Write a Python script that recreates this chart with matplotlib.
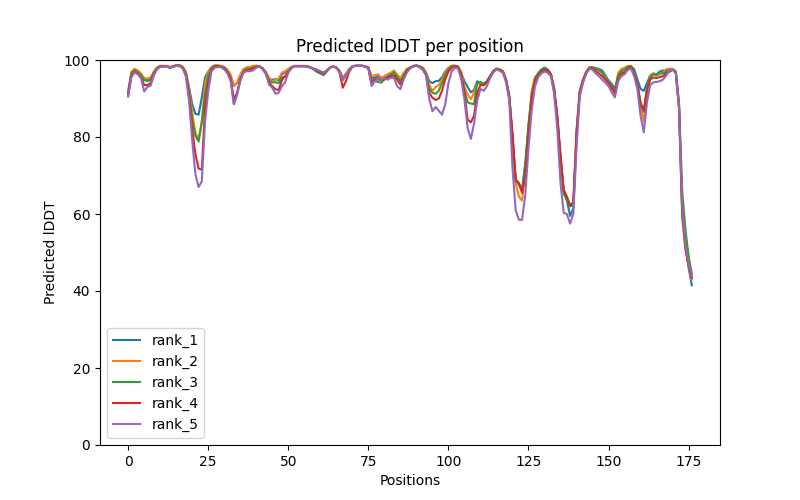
import matplotlib
matplotlib.use("Agg")
import matplotlib.pyplot as plt
import numpy as np

# per-residue plDDT for each ranked model
rank_1 = [92, 96.5, 97.3, 96.8, 96, 94.8, 94.8, 95, 96.7, 97.9,
          98.4, 98.4, 98.4, 97.9, 98.3, 98.6, 98.6, 98.1, 96.8, 93,
          88.5, 86, 85.8, 90.3, 95.5, 97, 98, 98.5, 98.5, 98.3,
          98, 97.1, 95.8, 93.3, 94, 96, 97.5, 98, 98.1, 98.3,
          98.5, 98.3, 97.8, 96.7, 94.9, 94.9, 95, 94.8, 96.3, 96.8,
          97.6, 98.1, 98.4, 98.4, 98.4, 98.4, 98.3, 98, 97.5, 96.9,
          96.5, 96.1, 97, 98, 98.3, 98, 97.1, 95, 96.2, 97.5,
          98.3, 98.5, 98.5, 98.5, 98.3, 98, 95.4, 95.4, 95.8, 94.9,
          95.4, 95.8, 96.3, 96.9, 95.8, 94.9, 96.3, 97.5, 98, 98.4,
          98.6, 98.3, 97.9, 96.7, 94.5, 94, 94.5, 94.6, 95.5, 97,
          98, 98.5, 98.5, 98.2, 96.5, 94.5, 93, 91.6, 92.2, 94.5,
          93.8, 93.5, 94.3, 95.8, 97.1, 97.7, 97.5, 97.1, 94.9, 90.6,
          80, 69, 67.5, 66.5, 73, 83, 91, 95, 96.5, 97.5,
          98, 97.5, 96.3, 92.5, 85, 74.5, 66, 63.5, 59.5, 61.5,
          80, 91.5, 94.5, 96.8, 98, 98, 97.8, 97.7, 97.3, 96,
          94.7, 93.8, 92.5, 96, 97.3, 97.6, 98.3, 98.4, 97.6, 95,
          92.5, 92, 94, 96, 96.5, 96.3, 97, 97.3, 97.1, 97.5,
          97.6, 96.9, 88, 61, 52, 46, 41.5]

rank_2 = [91.5, 97, 97.7, 97.3, 96.5, 95.3, 95.2, 95.5, 97, 98.1,
          98.5, 98.5, 98.5, 98.2, 98.4, 98.7, 98.7, 98.3, 97, 92.5,
          86.5, 81, 79.5, 84, 94, 97, 98.2, 98.6, 98.6, 98.5,
          98.2, 97.5, 96.2, 93.3, 94.1, 96.2, 97.6, 98.1, 98.2, 98.5,
          98.5, 98.4, 97.9, 96.9, 95.4, 94.5, 94.9, 95.2, 96.7, 97.1,
          97.7, 98.2, 98.5, 98.5, 98.5, 98.5, 98.4, 98.1, 97.8, 97.3,
          97, 96.8, 97.3, 98.1, 98.4, 98.1, 97.3, 95.5, 96.5, 97.7,
          98.4, 98.5, 98.5, 98.5, 98.4, 98.2, 95.8, 96, 96.3, 95.4,
          95.8, 96.3, 96.7, 97.3, 96.2, 95.3, 96.6, 97.7, 98.1, 98.5,
          98.6, 98.4, 98, 96.8, 93.5, 92, 93, 93.5, 95, 96.5,
          98, 98.5, 98.5, 98.4, 97, 93, 91, 89.8, 91.5, 94,
          93.7, 93.4, 94.3, 95.8, 97.1, 97.8, 97.6, 97.2, 95, 90.5,
          79, 68, 64.5, 63.5, 71, 82, 92, 95.5, 96.5, 97,
          97.5, 97, 96, 92, 84, 73.5, 65.5, 64, 62, 62.5,
          82, 92, 95, 97, 98.1, 98, 97.8, 97.5, 96.8, 95.7,
          94.3, 93.3, 91, 96.7, 97.7, 98, 98.4, 98.5, 96.7, 94,
          88, 84, 91.5, 96, 96.5, 96.1, 96.5, 96.7, 97.6, 97.7,
          97.7, 97, 87, 59, 51, 46.5, 43]

rank_3 = [91, 96.5, 97.3, 96.8, 96, 94.8, 94.5, 94.8, 96.7, 97.9,
          98.4, 98.4, 98.4, 98.1, 98.3, 98.6, 98.6, 98.1, 96.5, 91.5,
          84.5, 80.3, 78.8, 84, 91, 96, 97.8, 98.5, 98.5, 98.3,
          98, 97, 95.3, 88.5, 91, 94.8, 97, 97.6, 97.7, 98,
          98.3, 98.3, 97.8, 96.6, 94.6, 94.2, 94.2, 94, 95.5, 95.6,
          96.8, 98, 98.4, 98.4, 98.4, 98.4, 98.3, 98, 97.6, 97,
          96.6, 96.2, 97.1, 98, 98.3, 98, 97.1, 94.8, 96.2, 97.5,
          98.3, 98.5, 98.5, 98.5, 98.3, 98, 93.8, 94.5, 94.3, 94.1,
          95, 95.6, 96.1, 96.8, 95.5, 94.5, 96, 97.4, 98, 98.4,
          98.6, 98.3, 97.8, 96.5, 92.5, 91.5, 91.2, 92, 94, 96,
          97.5, 98.3, 98.5, 98.2, 96.5, 92, 89, 88.7, 88.5, 94,
          94.3, 93.8, 94.5, 95.8, 97.1, 97.7, 97.5, 97, 94.8, 90.5,
          80, 68.5, 68, 66, 73, 83, 91, 95, 96.5, 97.5,
          98, 97.5, 96.3, 92.5, 85, 74.5, 65.3, 63.5, 62, 62.3,
          81, 91.7, 94.7, 96.8, 98, 98.1, 97.9, 97.3, 96.7, 95.5,
          94.2, 93.3, 92, 96, 97, 97.4, 98.3, 98.4, 97, 94,
          89, 86.5, 93, 95.5, 96.3, 96, 96.5, 96.5, 96.9, 97.3,
          97.6, 96.9, 89, 66, 56, 49, 44.5]

rank_4 = [91, 96, 97, 96.5, 95.5, 93.5, 93.5, 94, 96.3, 97.7,
          98.3, 98.4, 98.4, 98.1, 98.3, 98.5, 98.5, 98, 96.3, 91,
          82, 75.5, 71.8, 71.5, 88, 94, 97.5, 98.3, 98.4, 98.2,
          97.8, 96.8, 95, 89.8, 91.5, 95, 96.8, 97.4, 97.5, 97.8,
          98.2, 98.3, 97.7, 96.5, 94.2, 93.2, 92.4, 92.2, 94.8, 95.8,
          97, 98, 98.4, 98.4, 98.4, 98.4, 98.3, 98, 97.7, 97.3,
          96.9, 96.5, 97.2, 98, 98.3, 98, 96.8, 92.8, 94.5, 97,
          98.2, 98.5, 98.5, 98.5, 98.3, 97.9, 94.5, 95, 95, 94.7,
          94.9, 95.4, 95.8, 96, 94.9, 93.6, 95.5, 97.1, 97.9, 98.3,
          98.5, 98.2, 97.6, 96.2, 91.5, 90.2, 89.6, 90, 92, 95,
          97, 98, 98.4, 98.2, 96, 91.5, 84.5, 83.8, 85.5, 91.5,
          93.5, 93.5, 94.2, 95.7, 97, 97.6, 97.4, 96.9, 94.7, 90.3,
          81, 69, 68, 65.5, 70, 81, 90, 94.5, 96, 97,
          97.5, 97.3, 96.3, 92.5, 85.5, 75.5, 66.3, 64.5, 62.3, 63,
          81, 91.5, 94.5, 96.6, 97.9, 97.8, 97.2, 96.5, 95.8, 94.9,
          94, 92.7, 91.5, 95, 96.5, 96.7, 97.8, 98.2, 96.3, 93.5,
          88.5, 87, 92, 94.9, 95.5, 95.3, 95.6, 95.8, 96.5, 96.9,
          97.5, 96.8, 88, 60, 51, 46.5, 43.5]

rank_5 = [90.5, 95.5, 96.8, 96.3, 95.3, 91.8, 93, 93.3, 96, 97.6,
          98.2, 98.3, 98.3, 98.1, 98.2, 98.5, 98.4, 97.8, 95.8, 89.5,
          79, 70.3, 67, 68.5, 84, 92, 97, 98, 98.2, 98.1,
          97.6, 96.5, 94.5, 88.6, 91, 94.5, 96.7, 97.1, 97.1, 97.3,
          98, 98.3, 97.6, 96.3, 93.6, 92.8, 91.2, 91.5, 93.2, 94.2,
          96.7, 97.9, 98.4, 98.4, 98.4, 98.4, 98.3, 98, 97.7, 97.5,
          97.1, 96.7, 97.3, 98, 98.3, 98, 97.1, 94.8, 96, 97.5,
          98.3, 98.5, 98.5, 98.5, 98.3, 97.8, 93.2, 94.5, 95, 94.7,
          95.3, 94.9, 95.4, 95.4, 93.2, 92.4, 94.9, 96.7, 97.8, 98.3,
          98.5, 98.1, 97.4, 96, 90, 86.7, 87.8, 86.8, 85.8, 88.5,
          94, 97, 98, 97.8, 95, 89.8, 82.3, 79.5, 83.5, 89.5,
          92.5, 92, 93.2, 95.3, 96.8, 97.5, 97.2, 96.7, 94.2, 89.5,
          72, 61, 58.5, 58.5, 65, 77, 87, 93, 95.5, 96.5,
          97, 96.7, 95.8, 91.3, 82, 68, 60.3, 60, 57.5, 60,
          77, 90.5, 94, 96.3, 97.7, 97.5, 96.5, 95.8, 94.9, 94.1,
          93.2, 91.6, 90.3, 94.5, 95.8, 96.3, 97.4, 97.8, 95.8, 92.5,
          85.5, 81.2, 89, 93.5, 94.2, 94.3, 94.5, 94.9, 96, 97.3,
          97.5, 96.5, 88, 62, 52, 47, 44]

ranks = [rank_1, rank_2, rank_3, rank_4, rank_5]
labels = ["rank_1", "rank_2", "rank_3", "rank_4", "rank_5"]

fig = plt.figure(figsize=(8, 5), dpi=100)
ax = fig.add_subplot(111)

for vals, lab in zip(ranks, labels):
    ax.plot(np.arange(len(vals)), vals, label=lab)

ax.set_ylim(0, 100)
ax.set_title("Predicted lDDT per position")
ax.set_xlabel("Positions")
ax.set_ylabel("Predicted lDDT")
ax.legend(loc="lower left")

fig.savefig("out.png", dpi=100)
